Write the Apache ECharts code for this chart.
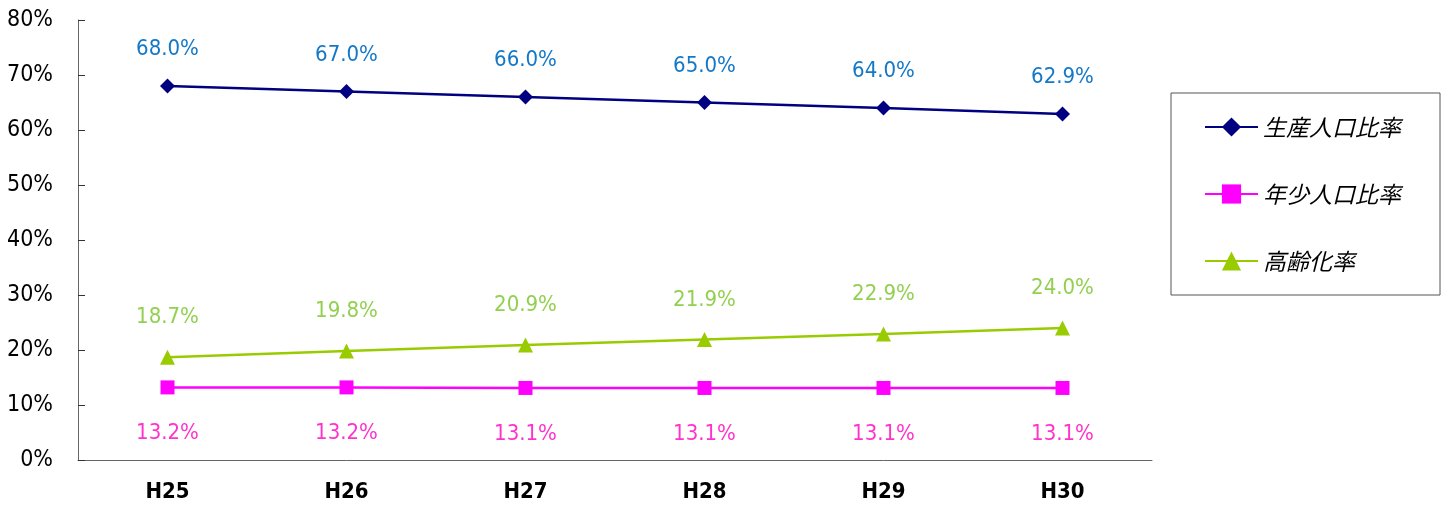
<!DOCTYPE html>
<html><head><meta charset="utf-8">
<script src="https://cdn.jsdelivr.net/npm/echarts@6/dist/echarts.min.js"></script>
<style>html,body{margin:0;padding:0;background:#fff}#c{width:1446px;height:506px}</style>
</head><body><div id="c"></div>
<script>
const categories = ['H25','H26','H27','H28','H29','H30'];
const seriesNames = ['生産人口比率','年少人口比率','高齢化率'];
const workingAge = [68.0, 67.0, 66.0, 65.0, 64.0, 62.9];
const youth = [13.2, 13.2, 13.1, 13.1, 13.1, 13.1];
const elderly = [18.7, 19.8, 20.9, 21.9, 22.9, 24.0];
const yTicks = [0, 10, 20, 30, 40, 50, 60, 70, 80];

const narrow = '"Liberation Sans Narrow", "DejaVu Sans Condensed", "Noto Sans", sans-serif';
const cjk = '"Noto Sans CJK JP", sans-serif';
const chart = echarts.init(document.getElementById('c'), null, {renderer:'canvas'});
const lbl = (color, pos, dist) => ({
  show: true, position: pos, distance: dist, color: color,
  fontSize: 22, fontFamily: narrow,
  formatter: p => p.value.toFixed(1) + '%'
});
chart.setOption({
  animation: false,
  grid: {left: 78, right: 294, top: 20, bottom: 46, containLabel: false},
  legend: {
    orient: 'vertical', left: 1171, top: 93,
    data: seriesNames,
    borderColor: '#555', borderWidth: 1, borderRadius: 0,
    padding: [21, 39, 21, 33],
    itemWidth: 53, itemHeight: 24, itemGap: 41,
    textStyle: {fontSize: 23, fontStyle: 'italic', color: '#000', fontFamily: cjk, lineHeight: 26}
  },
  xAxis: {
    type: 'category', data: categories, boundaryGap: true,
    axisLine: {lineStyle: {color: '#666', width: 1}},
    axisTick: {inside: true, length: 7, lineStyle: {color: '#333'}},
    axisLabel: {fontSize: 22, fontWeight: 'bold', color: '#000', margin: 21, fontFamily: narrow}
  },
  yAxis: {
    type: 'value', min: yTicks[0], max: yTicks[yTicks.length-1], interval: 10,
    splitLine: {show: false},
    axisLine: {show: true, lineStyle: {color: '#666', width: 1}},
    axisTick: {show: true, inside: true, length: 7, lineStyle: {color: '#333'}},
    axisLabel: {fontSize: 23, color: '#000', margin: 25, fontFamily: narrow, formatter: v => v + '%'}
  },
  series: [
    {name: seriesNames[0], type: 'line', data: workingAge, symbol: 'diamond', symbolSize: 15,
     color: '#000080', lineStyle: {width: 2.5, color: '#000080'}, itemStyle: {color: '#000080'},
     label: lbl('#1478C8', 'top', 18)},
    {name: seriesNames[1], type: 'line', data: youth, symbol: 'rect', symbolSize: 14,
     color: '#FF00FF', lineStyle: {width: 2.5, color: '#FF00FF'}, itemStyle: {color: '#FF00FF'},
     label: lbl('#FF33CC', 'bottom', 28)},
    {name: seriesNames[2], type: 'line', data: elderly, symbol: 'triangle', symbolSize: 15,
     color: '#99CC00', lineStyle: {width: 2.5, color: '#99CC00'}, itemStyle: {color: '#99CC00'},
     label: lbl('#92D050', 'top', 21)}
  ]
});
</script></body></html>
